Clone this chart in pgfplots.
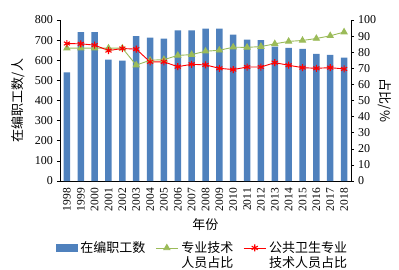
\documentclass[border=0pt]{standalone}
\usepackage{pgfplots}
\pgfplotsset{compat=1.18}
\usepackage{fontspec}
\setmainfont{Liberation Serif}
\newfontfamily\cjk{Noto Sans CJK SC}
\definecolor{barblue}{HTML}{4F81BD}
\definecolor{lgreen}{HTML}{9BBB59}
\definecolor{lred}{HTML}{FF0000}
\begin{document}
\fontsize{12}{14}\selectfont
\begin{tikzpicture}
\pgfplotsset{
  every axis/.append style={
    scale only axis, width=291pt, height=161pt,
    xmin=-0.5, xmax=20.5,
    font=\fontsize{12}{14}\selectfont,
    /pgf/number format/assume math mode=true,
    tick align=outside, major tick length=3pt,
    axis line style={black, line width=0.6pt},
    every tick/.style={black, line width=0.6pt},
  }
}
\begin{axis}[
  axis y line*=left, axis x line*=bottom,
  ymin=0, ymax=800, ytick={0,100,...,800},
  xtick={0,...,20},
  xticklabels={1998,1999,2000,2001,2002,2003,2004,2005,2006,2007,2008,2009,2010,2011,2012,2013,2014,2015,2016,2017,2018},
  xticklabel style={rotate=90, anchor=east, font=\fontsize{11.5}{13}\selectfont},
  x tick style={draw=none},
  ylabel={\cjk\fontsize{13}{15}\selectfont 在编职工数/人},
  ylabel style={at={(rel axis cs:0,0.5)}, anchor=center, yshift=42pt},
  xlabel={\cjk\fontsize{13}{15}\selectfont 年份},
  xlabel style={at={(rel axis cs:0.5,0)}, anchor=center, yshift=-44pt},
]
\coordinate (sw) at (rel axis cs:0,0);
\addplot[ybar, bar width=6.5pt, fill=barblue, draw=none] coordinates {
(0,540) (1,740) (2,740) (3,603) (4,598) (5,720) (6,713) (7,708) (8,748) (9,748)
(10,757) (11,757) (12,727) (13,703) (14,700) (15,668) (16,662) (17,657) (18,632) (19,627) (20,613)};
\end{axis}
\begin{axis}[
  axis y line*=right, axis x line=none,
  ymin=0, ymax=100, ytick={0,10,...,100},
  ylabel={\cjk\fontsize{13}{15}\selectfont 占比/\%},
  ylabel style={at={(rel axis cs:1,0.5)}, anchor=center, rotate=180, yshift=34pt},
  legend columns=3,
  legend style={at={(rel axis cs:0.49,-0.35)}, anchor=north, draw=none, fill=none,
    font=\cjk\fontsize{13}{15}\selectfont,
    /tikz/every odd column/.append style={column sep=1pt},
    /tikz/every even column/.append style={column sep=8pt}},
  legend image code/.code={\draw[mark repeat=2, mark phase=2] plot coordinates {(0pt,0pt) (11pt,0pt) (22pt,0pt)};},
]
\addlegendimage{legend image code/.code={\fill[barblue] (0pt,-3.5pt) rectangle (21pt,3.5pt);}}
\addlegendentry{在编职工数}
\addplot[lgreen, line width=0.9pt, mark=triangle*, mark size=3.5pt, mark options={fill=lgreen}]
coordinates {
(0,82.5) (1,82.5) (2,82.5) (3,82.5) (4,82.5) (5,72) (6,75) (7,75.4) (8,78) (9,78.5)
(10,80.6) (11,81.2) (12,83.1) (13,83) (14,83.5) (15,85.2) (16,86.7) (17,87.3) (18,88.5) (19,90.2) (20,92.5)};
\addlegendentry{\begin{tabular}[t]{@{}l@{}}专业技术\\人员占比\end{tabular}}
\addplot[lred, line width=0.9pt, mark=asterisk, mark size=3.5pt, mark options={line width=1.1pt}]
coordinates {
(0,85.4) (1,85.2) (2,84.4) (3,81) (4,82.3) (5,81.9) (6,74) (7,74) (8,71) (9,72.5)
(10,72.1) (11,70) (12,69.2) (13,70.8) (14,70.8) (15,73.5) (16,71.9) (17,70.4) (18,70) (19,70.4) (20,69.6)};
\addlegendentry{\begin{tabular}[t]{@{}l@{}}公共卫生专业\\技术人员占比\end{tabular}}
\end{axis}
\pgfresetboundingbox
\path (sw) ++(-60pt,-88pt) rectangle ++(399pt,269pt);
\end{tikzpicture}
\end{document}
